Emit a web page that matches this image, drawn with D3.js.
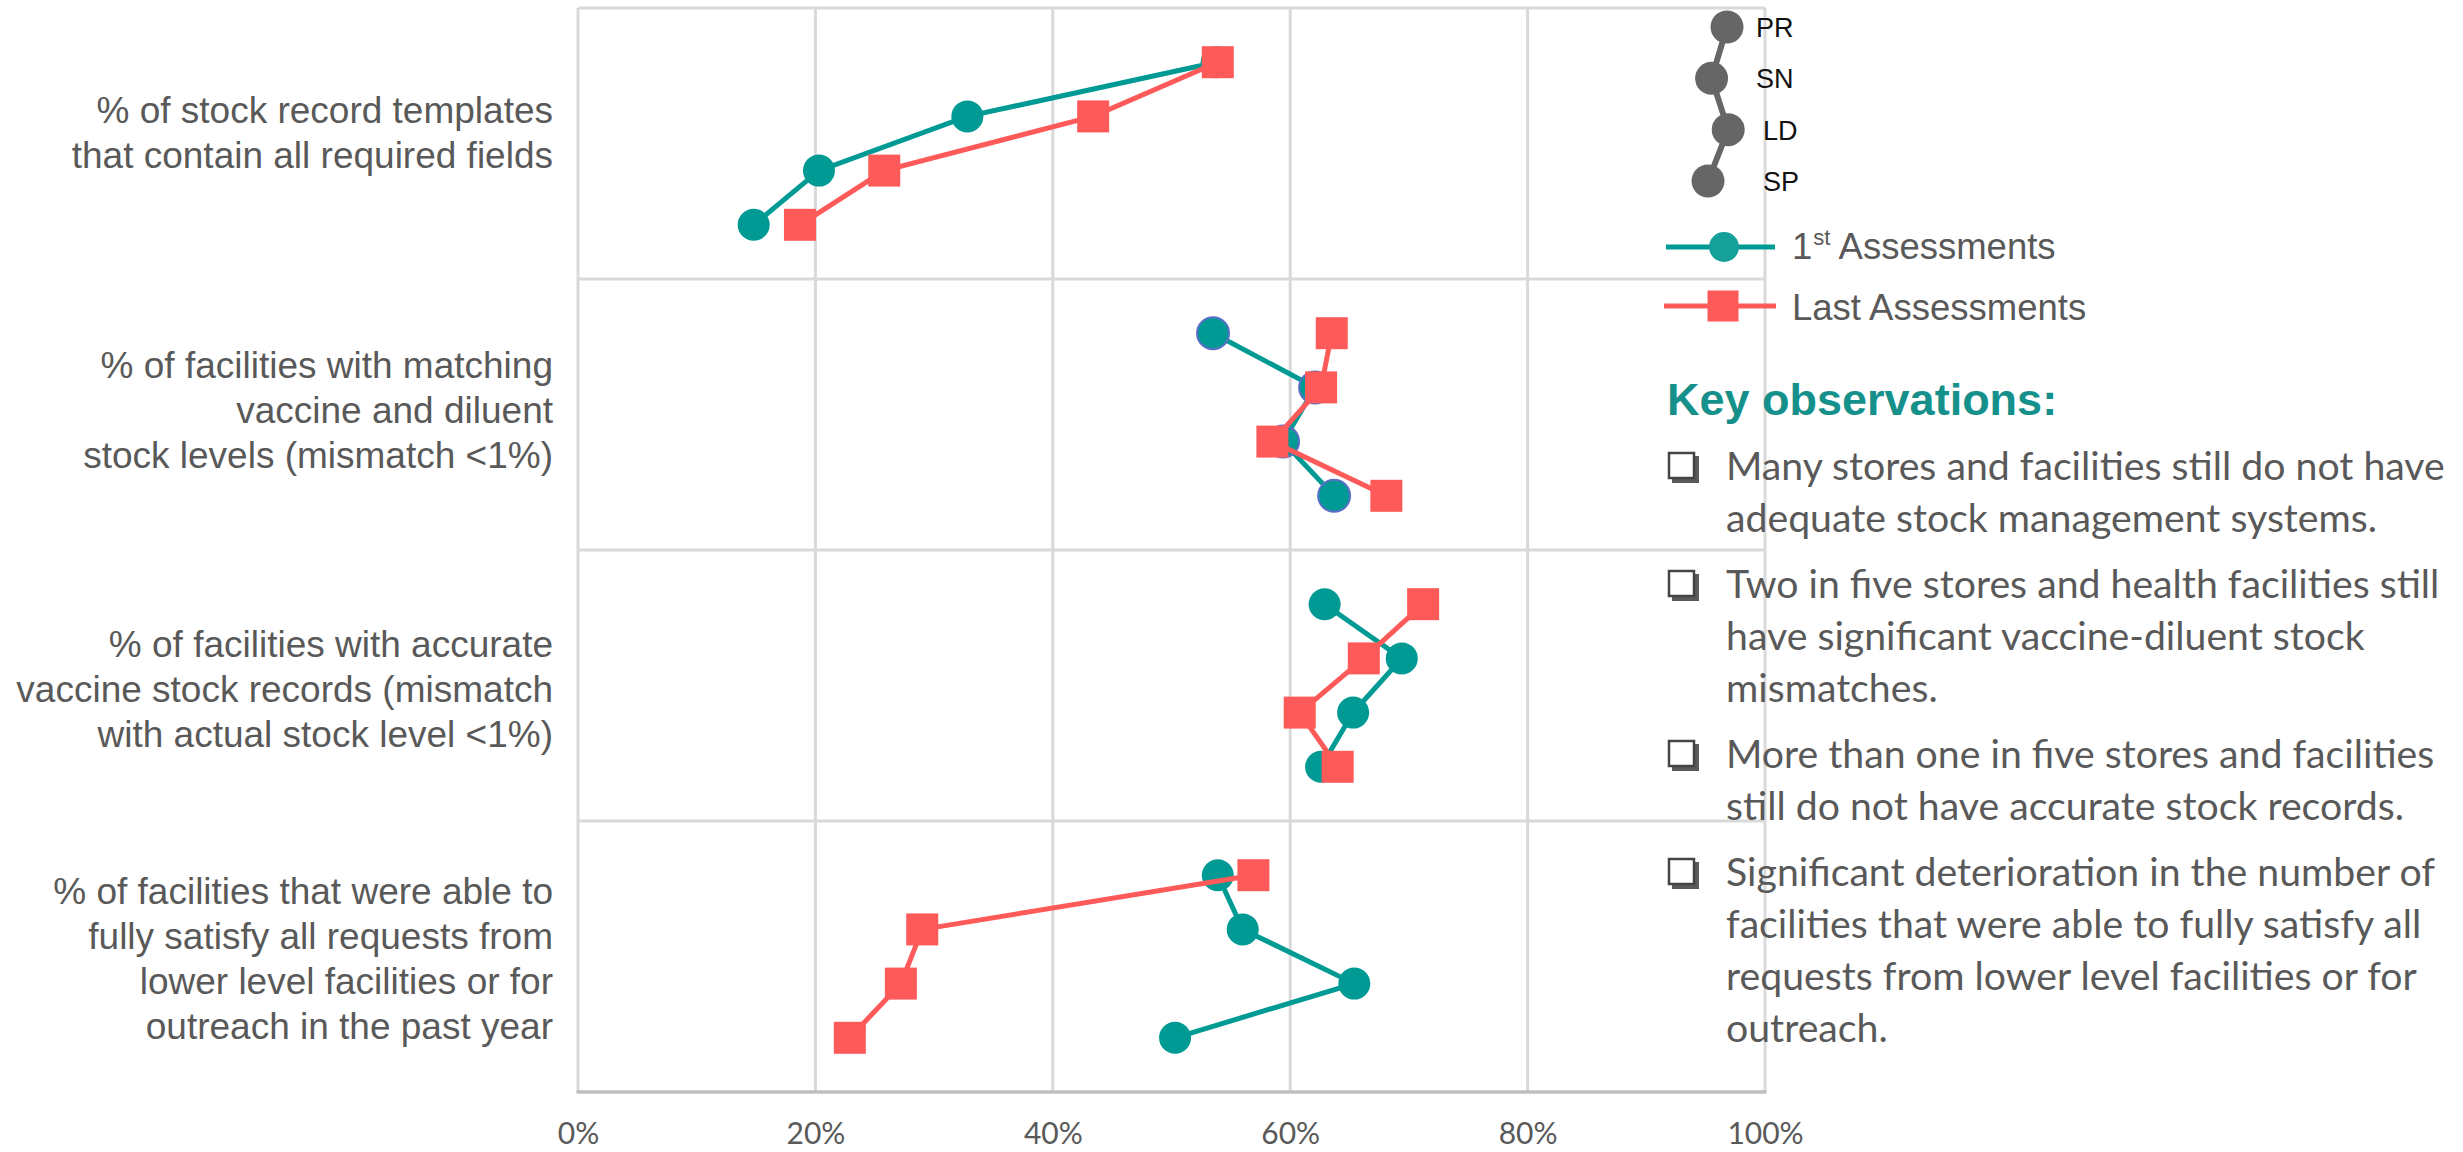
<!DOCTYPE html>
<html><head><meta charset="utf-8">
<script src="https://cdn.jsdelivr.net/npm/d3@7"></script>
<style>html,body{margin:0;padding:0;background:#fff;overflow:hidden}</style>
</head><body>
<svg id="chart" width="2463" height="1152"></svg>
<script>
// ---------------- data ----------------
const categories = ["templates", "diluent", "records", "requests"];
const categoryLines = [
  ["% of stock record templates", "that contain all required fields"],
  ["% of facilities with matching", "vaccine and diluent", "stock levels (mismatch <1%)"],
  ["% of facilities with accurate", "vaccine stock records (mismatch", "with actual stock level <1%)"],
  ["% of facilities that were able to", "fully satisfy all requests from", "lower level facilities or for", "outreach in the past year"]
];
const levels = ["PR", "SN", "LD", "SP"];
const firstAssessment = [
  [53.8, 32.8, 20.3, 14.8],
  [53.5, 62.1, 59.4, 63.7],
  [62.9, 69.4, 65.3, 62.6],
  [53.9, 56.0, 65.4, 50.3]
];
const lastAssessment = [
  [53.9, 43.4, 25.8, 18.7],
  [63.5, 62.6, 58.5, 68.1],
  [71.2, 66.2, 60.8, 64.0],
  [56.9, 29.0, 27.2, 22.9]
];
const keyLevelValues = [96.8, 95.5, 96.9, 95.2];
const xTicks = [0, 20, 40, 60, 80, 100];
const seriesNames = ["1st Assessments", "Last Assessments"];
const observationTitle = "Key observations:";
const observations = [
  ["Many stores and facilities still do not have", "adequate stock management systems."],
  ["Two in five stores and health facilities still", "have significant vaccine-diluent stock", "mismatches."],
  ["More than one in five stores and facilities", "still do not have accurate stock records."],
  ["Significant deterioration in the number of", "facilities that were able to fully satisfy all", "requests from lower level facilities or for", "outreach."]
];

// ---------------- layout ----------------
const TEAL = "#009A94", RED = "#FF5A5A", GRID = "#D9D9D9", TXT = "#595959";
const plot = {left: 578, right: 1765, top: 8, bottom: 1092};
const labelNudge = [-10, -4, 4, 3];

const svg = d3.select("#chart");
const x = d3.scaleLinear().domain([0, 100]).range([plot.left, plot.right]);
const y = d3.scaleBand().domain(categories).range([plot.top, plot.bottom]);
const sub = d3.scalePoint().domain(levels).range([0, y.bandwidth()]).padding(1);

// grid
const g = svg.append("g");
g.selectAll("line.v").data(xTicks).join("line")
  .attr("x1", d => x(d)).attr("x2", d => x(d))
  .attr("y1", plot.top).attr("y2", plot.bottom)
  .attr("stroke", GRID).attr("stroke-width", 3);
g.selectAll("line.h").data(categories).join("line")
  .attr("x1", plot.left).attr("x2", plot.right)
  .attr("y1", d => y(d)).attr("y2", d => y(d))
  .attr("stroke", GRID).attr("stroke-width", 3);
g.append("line").attr("x1", plot.left - 1.5).attr("x2", plot.right + 1.5)
  .attr("y1", plot.bottom).attr("y2", plot.bottom)
  .attr("stroke", "#BFBFBF").attr("stroke-width", 3.5);

// x axis labels
const xAxis = d3.axisBottom(x).tickValues(xTicks).tickFormat(d => d + "%").tickSize(0).tickPadding(31);
const ax = svg.append("g").attr("transform", `translate(0,${plot.bottom})`).call(xAxis);
ax.select(".domain").remove();
ax.selectAll("text").attr("font-family", "Lato, 'Open Sans', sans-serif")
  .attr("font-size", 30).attr("fill", TXT);

// category labels
categories.forEach((c, i) => {
  const lines = categoryLines[i];
  const lh = 45;
  const cy = y(c) + y.bandwidth() / 2;
  const y0 = cy - (lines.length - 1) / 2 * lh + 12 + labelNudge[i];
  const t = svg.append("text").attr("text-anchor", "end")
    .attr("font-family", "'Liberation Sans', Arial, sans-serif")
    .attr("font-size", 37).attr("fill", TXT);
  lines.forEach((ln, j) => t.append("tspan").attr("x", plot.left - 25).attr("y", y0 + j * lh).text(ln));
});

// series
function pts(arr) {
  const out = [];
  categories.forEach((c, i) => levels.forEach((l, j) => out.push({cat: c, row: i, level: l, v: arr[i][j]})));
  return out;
}
const line = d3.line().x(d => x(d.v)).y(d => y(d.cat) + sub(d.level));

const firstPts = pts(firstAssessment);
const lastPts = pts(lastAssessment);

const s1 = svg.append("g");
categories.forEach(c => {
  s1.append("path").datum(firstPts.filter(d => d.cat === c)).attr("d", line)
    .attr("fill", "none").attr("stroke", TEAL).attr("stroke-width", 5);
});
s1.selectAll("circle").data(firstPts).join("circle")
  .attr("cx", d => x(d.v)).attr("cy", d => y(d.cat) + sub(d.level)).attr("r", 16)
  .attr("fill", TEAL)
  .attr("stroke", d => d.row === 1 ? "#5B6FC8" : "none").attr("stroke-width", 2);

const s2 = svg.append("g");
categories.forEach(c => {
  s2.append("path").datum(lastPts.filter(d => d.cat === c)).attr("d", line)
    .attr("fill", "none").attr("stroke", RED).attr("stroke-width", 5);
});
s2.selectAll("rect").data(lastPts).join("rect")
  .attr("x", d => x(d.v) - 16).attr("y", d => y(d.cat) + sub(d.level) - 16)
  .attr("width", 32).attr("height", 32).attr("fill", RED);

// level key (PR, SN, LD, SP)
const keyY = d3.scalePoint().domain(levels).range([27, 181]);
const keyPts = levels.map((l, i) => ({level: l, v: keyLevelValues[i]}));
const kg = svg.append("g");
kg.append("path").datum(keyPts)
  .attr("d", d3.line().x(d => x(d.v)).y(d => keyY(d.level)))
  .attr("fill", "none").attr("stroke", "#666666").attr("stroke-width", 6);
kg.selectAll("circle").data(keyPts).join("circle")
  .attr("cx", d => x(d.v)).attr("cy", d => keyY(d.level)).attr("r", 16.5).attr("fill", "#666666");
kg.selectAll("text").data(keyPts).join("text")
  .attr("x", (d, i) => i < 2 ? 1756 : 1763).attr("y", d => keyY(d.level) + 10)
  .attr("font-family", "'Liberation Sans', Arial, sans-serif").attr("font-size", 27).attr("fill", "#111")
  .text(d => d.level);

// series legend
const lg = svg.append("g");
lg.append("line").attr("x1", 1666).attr("x2", 1775).attr("y1", 247).attr("y2", 247)
  .attr("stroke", TEAL).attr("stroke-width", 5);
lg.append("circle").attr("cx", 1724).attr("cy", 247).attr("r", 15).attr("fill", "#15A09A");
lg.append("line").attr("x1", 1664).attr("x2", 1776).attr("y1", 306).attr("y2", 306)
  .attr("stroke", RED).attr("stroke-width", 5);
lg.append("rect").attr("x", 1723 - 15.5).attr("y", 306 - 15.5).attr("width", 31).attr("height", 31).attr("fill", RED);
const lt1 = lg.append("text").attr("x", 1792).attr("y", 259)
  .attr("font-family", "'Liberation Sans', Arial, sans-serif").attr("font-size", 36.5).attr("fill", TXT);
const m = seriesNames[0].match(/^(\d)(st)(.*)$/);
lt1.append("tspan").text(m[1]);
lt1.append("tspan").attr("font-size", 22).attr("dy", -14).attr("dx", 1).text(m[2]);
lt1.append("tspan").attr("dy", 14).text(m[3]);
lg.append("text").attr("x", 1792).attr("y", 320)
  .attr("font-family", "'Liberation Sans', Arial, sans-serif").attr("font-size", 36.5).attr("fill", TXT)
  .text(seriesNames[1]);

// key observations
svg.append("text").attr("x", 1667).attr("y", 415)
  .attr("font-family", "'Liberation Sans', Arial, sans-serif").attr("font-weight", "bold")
  .attr("font-size", 45).attr("fill", "#16908B").text(observationTitle);

const og = svg.append("g");
const obsX = 1726, lineH = 52, itemGap = 14;
// fit font size to reference width of the first line
const probe = og.append("text").attr("font-family", "Lato, 'Open Sans', sans-serif").attr("font-size", 40)
  .text(observations[0][0]);
const probeW = probe.node().getComputedTextLength();
probe.remove();
const obsFont = 40 * 719 / probeW;

let yy = 480;
observations.forEach(lines => {
  // checkbox bullet
  const bx = 1668, by = yy - 28, bs = 27;
  og.append("rect").attr("x", bx + 4).attr("y", by + 4).attr("width", bs).attr("height", bs).attr("fill", "#5a5a5a");
  og.append("rect").attr("x", bx + 1).attr("y", by + 1).attr("width", bs - 2).attr("height", bs - 2)
    .attr("fill", "#fff").attr("stroke", "#444").attr("stroke-width", 2.5);
  const t = og.append("text").attr("font-family", "Lato, 'Open Sans', sans-serif")
    .attr("font-size", obsFont).attr("fill", TXT);
  lines.forEach((ln, j) => t.append("tspan").attr("x", obsX).attr("y", yy + j * lineH).text(ln));
  yy += lines.length * lineH + itemGap;
});
</script>
</body></html>
